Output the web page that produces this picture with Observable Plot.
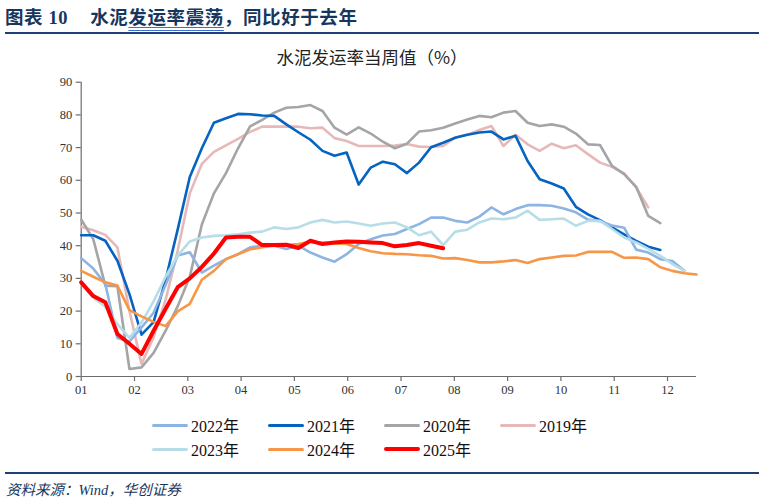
<!DOCTYPE html>
<html>
<head>
<meta charset="utf-8">
<script src="https://cdn.jsdelivr.net/npm/d3@7"></script>
<script src="https://cdn.jsdelivr.net/npm/@observablehq/plot@0.6"></script>
<style>
  html, body { margin: 0; padding: 0; background: #fff; }
  #page { position: relative; width: 764px; height: 502px; overflow: hidden; background: #fff; }
  .head { position: absolute; left: 5px; top: 3px; font-family: "Liberation Serif", "Noto Sans CJK SC", serif;
          font-weight: 700; font-size: 18.5px; color: #17365d; white-space: nowrap; letter-spacing: 0.6px; }
  .head .num { margin-right: 22px; }
  .head u { text-decoration: underline double #3d6fd1; text-underline-offset: 3px; }
  .rule { position: absolute; left: 5px; width: 754px; height: 1.5px; background: #1f3f77; }
  .ctitle { position: absolute; left: 0; width: 744px; top: 44px; text-align: center;
            font-family: "Noto Sans CJK SC", sans-serif; font-size: 17.5px; color: #222; }
  #chart { position: absolute; left: 0; top: 40px; }
  .legend { position: absolute; left: 0; top: 414px; width: 764px; font-family: "Liberation Serif", "Noto Sans CJK SC", serif;
            font-size: 16px; color: #111; }
  .item { position: absolute; height: 22px; display: flex; align-items: center; white-space: nowrap; }
  .swatch { display: inline-block; width: 36px; margin-right: 3px; border-radius: 2px; }
  .source { position: absolute; left: 6px; top: 478px; font-family: "Liberation Serif", "Noto Sans CJK SC", serif;
            font-style: italic; font-size: 14.5px; color: #17365d; white-space: nowrap; }
</style>
</head>
<body>
<div id="page">
  <div class="head"><span class="num">图表 10</span>水泥<u>发运率震荡</u>，同比好于去年</div>
  <div class="rule" style="top:32px"></div>
  <div id="chart"></div>
  <div class="ctitle">水泥发运率当周值（%）</div>
  <div class="legend" id="legend"></div>
  <div class="rule" style="top:472px"></div>
  <div class="source">资料来源：Wind，华创证券</div>
</div>
<script>
// Weekly cement shipment rate (%), one array per year, indexed by week of the year
const rate2019 = [45.8, 44.7, 43.3, 39.5, 20.0, 3.8, 12.0, 23.5, 38.5, 56.0, 65.0, 68.7, 70.7, 72.7, 74.8, 76.4,
  76.4, 76.4, 76.4, 75.9, 76.1, 72.9, 72.0, 70.5, 70.5, 70.5, 70.6, 71.1, 70.3, 70.2, 70.5, 73.1, 73.9, 75.4,
  76.6, 70.5, 73.9, 71.0, 69.0, 71.2, 69.8, 70.7, 68.0, 65.4, 64.1, 62.1, 57.8, 51.7];
const rate2020 = [48.0, 42.0, 27.8, 27.6, 2.3, 2.8, 7.2, 14.0, 21.5, 30.5, 46.5, 56.0, 62.2, 69.8, 76.5, 78.5,
  80.7, 82.2, 82.4, 83.0, 81.2, 76.1, 74.0, 76.2, 74.3, 71.8, 69.8, 71.2, 74.9, 75.3, 76.1, 77.4, 78.6, 79.7,
  79.3, 80.7, 81.2, 77.6, 76.6, 77.1, 76.4, 74.3, 71.0, 70.8, 64.4, 61.9, 58.0, 49.1, 46.9];
const rate2021 = [43.2, 43.2, 41.5, 35.4, 25.2, 12.8, 16.6, 29.6, 45.0, 61.0, 69.8, 77.6, 79.0, 80.3, 80.2, 79.8,
  79.7, 77.1, 74.7, 72.4, 69.0, 67.5, 68.5, 58.7, 63.9, 65.7, 64.9, 62.2, 65.4, 70.1, 71.5, 73.0, 73.9, 74.6,
  74.9, 72.5, 73.6, 65.9, 60.3, 59.0, 57.5, 51.9, 49.6, 47.8, 45.6, 43.5, 41.5, 39.7, 38.7];
const rate2022 = [36.2, 33.0, 28.3, 11.8, 10.7, 15.0, 19.5, 28.0, 37.0, 38.0, 31.8, 33.9, 35.9, 37.4, 39.5, 40.0,
  40.0, 39.0, 40.0, 37.9, 36.4, 35.1, 37.4, 40.5, 42.0, 43.1, 43.6, 45.1, 46.6, 48.6, 48.6, 47.6, 47.1, 48.9,
  51.7, 49.6, 51.2, 52.4, 52.4, 52.2, 51.4, 50.2, 48.0, 47.5, 46.2, 45.5, 38.8, 37.9, 35.9, 35.3, 32.3];
const rate2023 = [28.5, 24.2, 21.3, 16.0, 11.8, 16.5, 23.0, 30.5, 37.0, 41.3, 42.5, 43.0, 43.2, 43.5, 44.0, 44.3,
  45.6, 45.1, 45.6, 47.1, 47.9, 47.1, 47.4, 46.8, 46.1, 46.8, 47.1, 45.6, 43.2, 44.3, 40.2, 44.3, 44.9, 47.1,
  48.3, 48.1, 48.6, 50.7, 47.9, 48.1, 48.3, 46.1, 47.6, 47.6, 45.1, 42.5, 41.0, 39.0, 36.9, 34.4, 32.3];
const rate2024 = [32.3, 30.5, 28.8, 27.8, 20.3, 18.4, 16.7, 15.4, 19.9, 22.2, 29.6, 32.3, 35.9, 37.4, 38.9, 39.5,
  40.0, 40.2, 40.5, 41.2, 41.0, 40.7, 40.5, 39.3, 38.3, 37.7, 37.5, 37.4, 37.1, 36.9, 36.1, 36.2, 35.6, 34.9,
  34.9, 35.2, 35.6, 34.7, 35.9, 36.4, 36.9, 37.0, 38.1, 38.1, 38.1, 36.3, 36.4, 35.9, 33.4, 32.3, 31.6, 31.2];
const rate2025 = [28.8, 24.6, 22.7, 13.0, 10.0, 6.9, 14.0, 20.7, 27.3, 30.0, 33.5, 37.6, 42.5, 42.7, 42.7, 40.2,
  40.2, 40.3, 39.3, 41.5, 40.5, 41.0, 41.3, 41.2, 41.0, 40.8, 39.8, 40.2, 40.8, 40.0, 39.2];

const yTicks = [0, 10, 20, 30, 40, 50, 60, 70, 80, 90];
const monthLabels = ["01", "02", "03", "04", "05", "06", "07", "08", "09", "10", "11", "12"];
const weeksPerMonth = 4.418;   // spacing of the month labels along the week axis
const lastWeek = 51;

// Series in drawing order, with the legend layout (row, column)
const series = [
  {name: "2019年", values: rate2019, color: "#e6b9b8", width: 2.6, row: 0, col: 3},
  {name: "2020年", values: rate2020, color: "#a5a5a5", width: 2.6, row: 0, col: 2},
  {name: "2021年", values: rate2021, color: "#0563c1", width: 2.6, row: 0, col: 1},
  {name: "2022年", values: rate2022, color: "#8db4e2", width: 2.6, row: 0, col: 0},
  {name: "2023年", values: rate2023, color: "#b7dee8", width: 2.6, row: 1, col: 0},
  {name: "2024年", values: rate2024, color: "#f79646", width: 2.6, row: 1, col: 1},
  {name: "2025年", values: rate2025, color: "#ff0000", width: 4.0, row: 1, col: 2}
];

const rows = series.map(s => s.values.map((v, i) => ({year: s.name, week: i, rate: v})));
const monthTicks = monthLabels.map((_, i) => i * weeksPerMonth);

const chart = Plot.plot({
  width: 764,
  height: 360,
  marginTop: 41.7,
  marginBottom: 24,
  marginLeft: 80.7,
  marginRight: 68,
  style: {fontFamily: "Liberation Serif, serif", fontSize: "12.5px", color: "#333", background: "transparent"},
  x: {domain: [0, lastWeek], axis: null},
  y: {domain: [0, 90], axis: null},
  marks: [
    Plot.axisY({ticks: yTicks, label: null, tickSize: 5, tickPadding: 4, stroke: "#6b6b6b", strokeWidth: 1.2, fill: "#333"}),
    Plot.axisX({ticks: monthTicks, label: null, tickSize: 5, tickPadding: 4, stroke: "#6b6b6b", strokeWidth: 1.2, fill: "#333",
      tickFormat: d => monthLabels[Math.round(d / weeksPerMonth)]}),
    Plot.ruleX([0], {y1: 0, y2: 90, stroke: "#6b6b6b", strokeWidth: 1.2}),
    Plot.ruleY([0], {x1: 0, x2: lastWeek, stroke: "#6b6b6b", strokeWidth: 1.2}),
    ...series.map((s, k) => Plot.line(rows[k], {
      x: "week", y: "rate", stroke: s.color, strokeWidth: s.width,
      strokeLinejoin: "round", strokeLinecap: "round"
    }))
  ]
});
document.getElementById("chart").appendChild(chart);

// Legend: two rows of line swatches with year labels
const legendCols = [152, 268, 384, 500];
const legend = d3.select("#legend");
for (const s of series) {
  const item = legend.append("div").attr("class", "item")
    .style("left", legendCols[s.col] + "px")
    .style("top", (s.row * 24) + "px");
  item.append("span").attr("class", "swatch")
    .style("height", (s.width === 4.0 ? 4.5 : 3) + "px")
    .style("background", s.color);
  item.append("span").text(s.name);
}
</script>
</body>
</html>
